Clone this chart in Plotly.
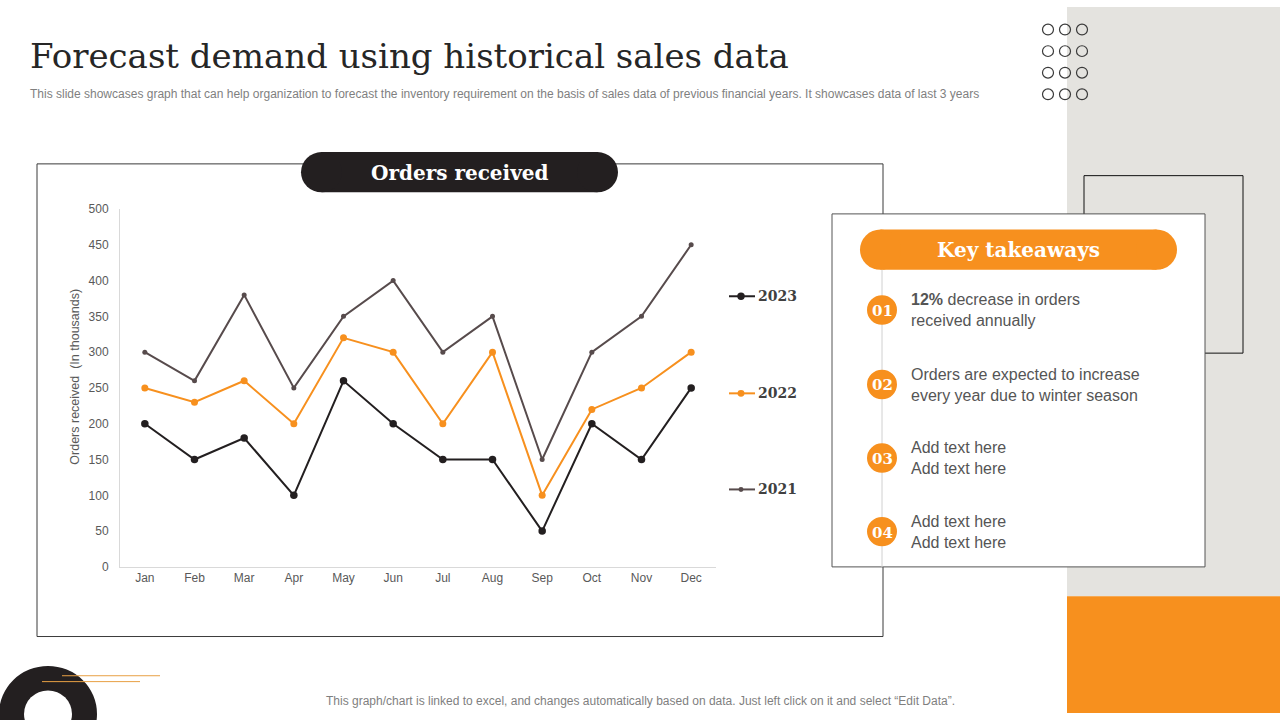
import plotly.graph_objects as go

W, H = 1280, 720

months = ["Jan", "Feb", "Mar", "Apr", "May", "Jun", "Jul", "Aug", "Sep", "Oct", "Nov", "Dec"]
orders_2023 = [200, 150, 180, 100, 260, 200, 150, 150, 50, 200, 150, 250]
orders_2022 = [250, 230, 260, 200, 320, 300, 200, 300, 100, 220, 250, 300]
orders_2021 = [300, 260, 380, 250, 350, 400, 300, 350, 150, 300, 350, 450]
y_ticks = [0, 50, 100, 150, 200, 250, 300, 350, 400, 450, 500]

takeaway_nums = ["01", "02", "03", "04"]
takeaway_text = [
    "<b>12%</b> decrease in orders<br>received annually",
    "Orders are expected to increase<br>every year due to winter season",
    "Add text here<br>Add text here",
    "Add text here<br>Add text here",
]

BLACK = "#231F20"
ORANGE = "#F7901E"
BROWN = "#574B4C"
GREY_TXT = "#595959"
SERIF = "DejaVu Serif"
SANS = "Liberation Sans"


def px(x):
    return x / W


def py(y):
    return 1 - y / H


def rect(x0, y0, x1, y1, fill=None, line=None, lw=1, layer="below"):
    return dict(type="rect", xref="paper", yref="paper",
                x0=px(x0), x1=px(x1), y0=py(y1), y1=py(y0),
                fillcolor=fill or "rgba(0,0,0,0)",
                line=dict(color=line or "rgba(0,0,0,0)", width=lw if line else 0),
                layer=layer)


def circle(cx, cy, r, fill=None, line=None, lw=1, layer="above"):
    return dict(type="circle", xref="paper", yref="paper",
                x0=px(cx - r), x1=px(cx + r), y0=py(cy + r), y1=py(cy - r),
                fillcolor=fill or "rgba(0,0,0,0)",
                line=dict(color=line or "rgba(0,0,0,0)", width=lw if line else 0),
                layer=layer)


def hline(x0, x1, y, color, lw=1):
    return dict(type="line", xref="paper", yref="paper",
                x0=px(x0), x1=px(x1), y0=py(y), y1=py(y),
                line=dict(color=color, width=lw), layer="above")


def pill(x0, y0, x1, y1, fill):
    # rounded bar = rect + two end circles
    r = (y1 - y0) / 2
    return [
        rect(x0 + r, y0, x1 - r, y1, fill=fill, layer="above"),
        circle(x0 + r, (y0 + y1) / 2, r, fill=fill),
        circle(x1 - r, (y0 + y1) / 2, r, fill=fill),
    ]


def text(x, y, s, size, color, family=SANS, xanchor="left", yanchor="middle", align="left"):
    return dict(x=px(x), y=py(y), xref="paper", yref="paper", text=s, showarrow=False,
                xanchor=xanchor, yanchor=yanchor, align=align,
                font=dict(size=size, color=color, family=family))


fig = go.Figure()

fig.add_trace(go.Scatter(x=months, y=orders_2021, mode="lines+markers", name="2021",
                         line=dict(color=BROWN, width=2), marker=dict(size=5, color=BROWN)))
fig.add_trace(go.Scatter(x=months, y=orders_2022, mode="lines+markers", name="2022",
                         line=dict(color=ORANGE, width=2), marker=dict(size=7, color=ORANGE)))
fig.add_trace(go.Scatter(x=months, y=orders_2023, mode="lines+markers", name="2023",
                         line=dict(color=BLACK, width=2), marker=dict(size=7.5, color=BLACK)))

shapes = []
# background panels
shapes.append(rect(1067, 0, 1280, 601, fill="#E4E3DF"))
shapes.append(rect(1067, 601, 1280, 720, fill=ORANGE))
# chart frame
shapes.append(rect(37, 160, 883, 642, fill="white", line="#3A3A3A"))
# back outline box
shapes.append(rect(1084, 172, 1243, 353, line="#111111"))

above = []
above += pill(301, 148, 618, 189, BLACK)
# takeaways box
above.append(rect(832, 211, 1205, 571, fill="white", line="#555555", layer="above"))
above += pill(860, 227, 1177, 268, ORANGE)
above.append(dict(type="line", xref="paper", yref="paper", x0=px(882), x1=px(882),
                  y0=py(268), y1=py(571), line=dict(color="#D0D0D0", width=1), layer="above"))
item_y = [309, 385, 460, 535]
for yy in item_y:
    above.append(circle(882, yy, 15, fill=ORANGE))

# circle grid top right
for cy in [23, 45, 67, 89]:
    for cx in [1048, 1065, 1082]:
        above.append(circle(cx, cy, 5.5, line="#3A3A3A", lw=1.2))

# ring bottom-left
above.append(circle(48, 721, 49, fill=BLACK))
above.append(circle(48, 721, 24, fill="white"))
above.append(hline(62, 160, 682, "#E8A044", 1))
above.append(hline(42, 140, 688, "#E8A044", 1))

# legend (drawn by hand to sit beside the plot)
legend_items = [("2023", BLACK, 7.5, 295), ("2022", ORANGE, 7, 394), ("2021", BROWN, 5, 492)]
annotations = []
for name, col, ms, ly in legend_items:
    above.append(hline(729, 755, ly, col, 2))
    above.append(circle(741, ly, ms / 2, fill=col))
    annotations.append(text(756, ly, f"<b>{name}</b>", 14, "#404040", family=SERIF))

annotations += [
    text(28, 50, "Forecast demand using historical sales data", 34, "#262626", family=SERIF),
    text(28, 89, "This slide showcases graph that can help organization to forecast the inventory "
         "requirement on the basis of sales data of previous financial years. It showcases data of last 3 years",
         12, "#7F7F7F"),
    text(459.5, 169, "<b>Orders received</b>", 20, "white", family=SERIF, xanchor="center"),
    text(1018.5, 248, "<b>Key takeaways</b>", 20, "white", family=SERIF, xanchor="center"),
    text(640, 708, "This graph/chart is linked to excel, and changes automatically based on data. "
         "Just left click on it and select \u201cEdit Data\u201d.", 12, "#7F7F7F", xanchor="center"),
]
ytitle = text(75, 377, "Orders received  (In thousands)", 12.5, GREY_TXT, xanchor="center")
ytitle["textangle"] = -90
annotations.append(ytitle)
for num, yy, s in zip(takeaway_nums, item_y, takeaway_text):
    annotations.append(text(882, yy + 1, f"<b>{num}</b>", 15, "white", family=SERIF, xanchor="center"))
    annotations.append(text(909, yy, s, 16, "#555555"))

fig.update_layout(
    width=W, height=H,
    margin=dict(l=0, r=0, t=0, b=0),
    paper_bgcolor="white", plot_bgcolor="rgba(0,0,0,0)",
    showlegend=False,
    xaxis=dict(domain=[px(120), px(716)], range=[-0.5, 11.5], showgrid=False, showline=True,
               linecolor="#D9D9D9", ticks="", tickfont=dict(size=12, color=GREY_TXT, family=SANS),
               zeroline=False, fixedrange=True),
    yaxis=dict(domain=[py(571), py(206)], range=[0, 500], tickvals=y_ticks, showgrid=False,
               showline=True, linecolor="#D9D9D9", ticks="", zeroline=False,
               tickfont=dict(size=12, color=GREY_TXT, family=SANS), ticklabelstandoff=8,
               fixedrange=True),
    shapes=shapes + above,
    annotations=annotations,
)

# drop the default page margin so the 1280x720 figure fills the window exactly
fig.write_html("out.html", config={"displayModeBar": False},
               post_script="document.body.style.margin='0';")
